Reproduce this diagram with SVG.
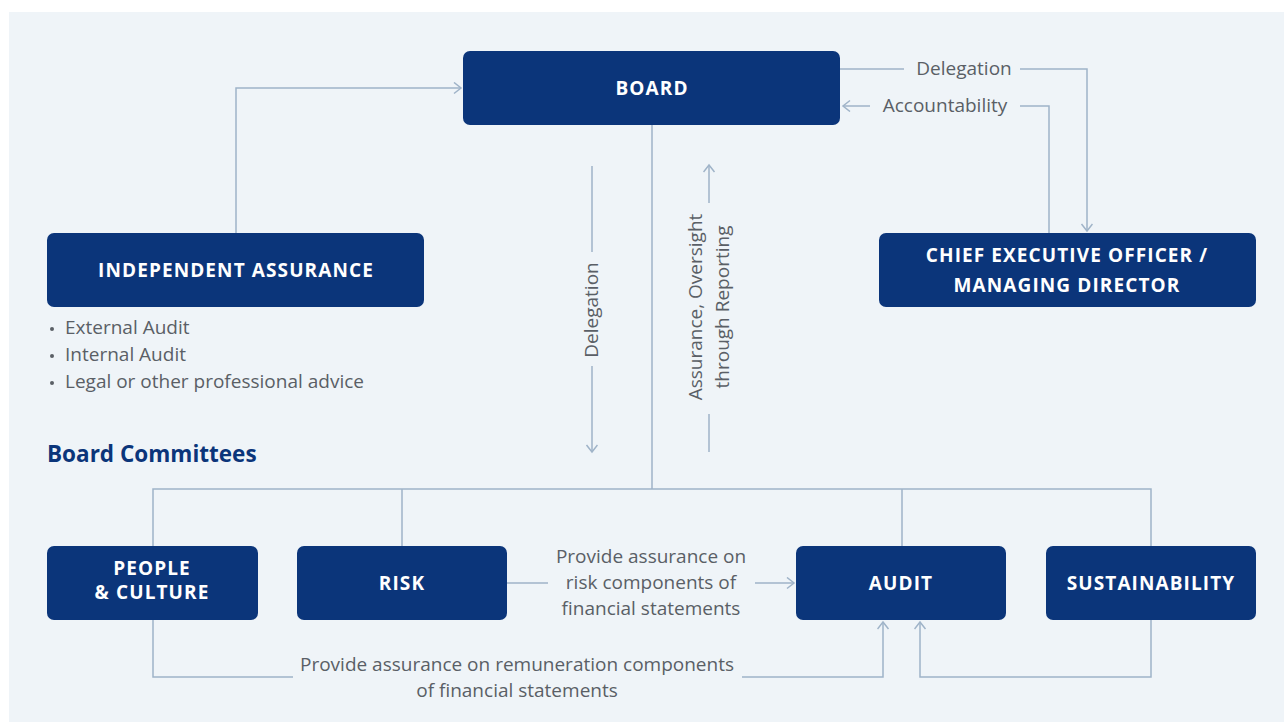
<svg xmlns="http://www.w3.org/2000/svg" width="1284" height="726" viewBox="0 0 1284 726">
<defs>
<marker id="arr" markerUnits="userSpaceOnUse" markerWidth="14" markerHeight="14" refX="9" refY="6" orient="auto">
<path d="M2,0.5 L9,6 L2,11.5" fill="none" stroke="#9fb3c8" stroke-width="1.5"/>
</marker>
<style>
.node{fill:#0b357a;}
.lbl{font-family:"Open Sans","Liberation Sans",sans-serif;font-weight:700;font-size:19px;fill:#ffffff;text-anchor:middle;letter-spacing:1.1px;}
.txt{font-family:"Open Sans","Liberation Sans",sans-serif;font-size:19px;fill:#5a5f66;}
.mid{text-anchor:middle;}
.ln{fill:none;stroke:#9fb3c8;stroke-width:1.5;}
.head{font-family:"Open Sans","Liberation Sans",sans-serif;font-weight:700;font-size:22.5px;fill:#0b357a;}
</style>
</defs>
<rect x="0" y="0" width="1284" height="726" fill="#ffffff"/>
<rect x="9" y="12" width="1275" height="710" fill="#eff4f8"/>

<g id="connectors">
<path class="ln" d="M840,69 H904"/>
<path class="ln" d="M1020,69 H1087 V231" marker-end="url(#arr)"/>
<path class="ln" d="M236,233 V88 H461" marker-end="url(#arr)"/>
<path class="ln" d="M1049,233 V106 H1020"/>
<path class="ln" d="M870,106 H843" marker-end="url(#arr)"/>
<path class="ln" d="M652,125 V489"/>
<path class="ln" d="M153,546 V489 H1151 V546"/>
<path class="ln" d="M402,489 V546"/>
<path class="ln" d="M902,489 V546"/>
<path class="ln" d="M592,166 V252"/>
<path class="ln" d="M592,366 V452" marker-end="url(#arr)"/>
<path class="ln" d="M709,452 V414"/>
<path class="ln" d="M709,203 V165" marker-end="url(#arr)"/>
<path class="ln" d="M507,583 H548"/>
<path class="ln" d="M755,583 H794" marker-end="url(#arr)"/>
<path class="ln" d="M153,620 V677 H293"/>
<path class="ln" d="M742,677 H883 V622" marker-end="url(#arr)"/>
<path class="ln" d="M1151,620 V677 H920 V622" marker-end="url(#arr)"/>
<text class="txt mid" x="964" y="75">Delegation</text>
<text class="txt mid" x="945" y="112">Accountability</text>
<text class="txt mid" transform="translate(598,310) rotate(-90)" x="0" y="0">Delegation</text>
<text class="txt mid" transform="translate(709,307) rotate(-90)"><tspan x="0" y="-7">Assurance, Oversight</tspan><tspan x="0" y="20">through Reporting</tspan></text>
<text class="txt mid" x="651" y="563">Provide assurance on</text>
<text class="txt mid" x="651" y="589">risk components of</text>
<text class="txt mid" x="651" y="615">financial statements</text>
<text class="txt mid" x="517" y="671">Provide assurance on remuneration components</text>
<text class="txt mid" x="517" y="697">of financial statements</text>
</g>

<g id="board">
<rect class="node" x="463" y="51" width="377" height="74" rx="7"/>
<text class="lbl" x="652" y="95">BOARD</text>
</g>
<g id="independent-assurance">
<rect class="node" x="47" y="233" width="377" height="74" rx="7"/>
<text class="lbl" x="236" y="277">INDEPENDENT ASSURANCE</text>
</g>
<g id="assurance-list">
<circle cx="52" cy="329" r="2" fill="#5a5f66"/>
<circle cx="52" cy="356" r="2" fill="#5a5f66"/>
<circle cx="52" cy="383" r="2" fill="#5a5f66"/>
<text class="txt" x="65" y="334">External Audit</text>
<text class="txt" x="65" y="361">Internal Audit</text>
<text class="txt" x="65" y="388">Legal or other professional advice</text>
</g>
<g id="ceo">
<rect class="node" x="879" y="233" width="377" height="74" rx="7"/>
<text class="lbl" x="1067" y="262">CHIEF EXECUTIVE OFFICER /</text>
<text class="lbl" x="1067" y="292">MANAGING DIRECTOR</text>
</g>
<g id="board-committees-heading">
<text class="head" x="47" y="462">Board Committees</text>
</g>
<g id="people-culture">
<rect class="node" x="47" y="546" width="211" height="74" rx="7"/>
<text class="lbl" x="152" y="575">PEOPLE</text>
<text class="lbl" x="152" y="599">&amp; CULTURE</text>
</g>
<g id="risk">
<rect class="node" x="297" y="546" width="210" height="74" rx="7"/>
<text class="lbl" x="402" y="590">RISK</text>
</g>
<g id="audit">
<rect class="node" x="796" y="546" width="210" height="74" rx="7"/>
<text class="lbl" x="901" y="590">AUDIT</text>
</g>
<g id="sustainability">
<rect class="node" x="1046" y="546" width="210" height="74" rx="7"/>
<text class="lbl" x="1151" y="590">SUSTAINABILITY</text>
</g>
</svg>
